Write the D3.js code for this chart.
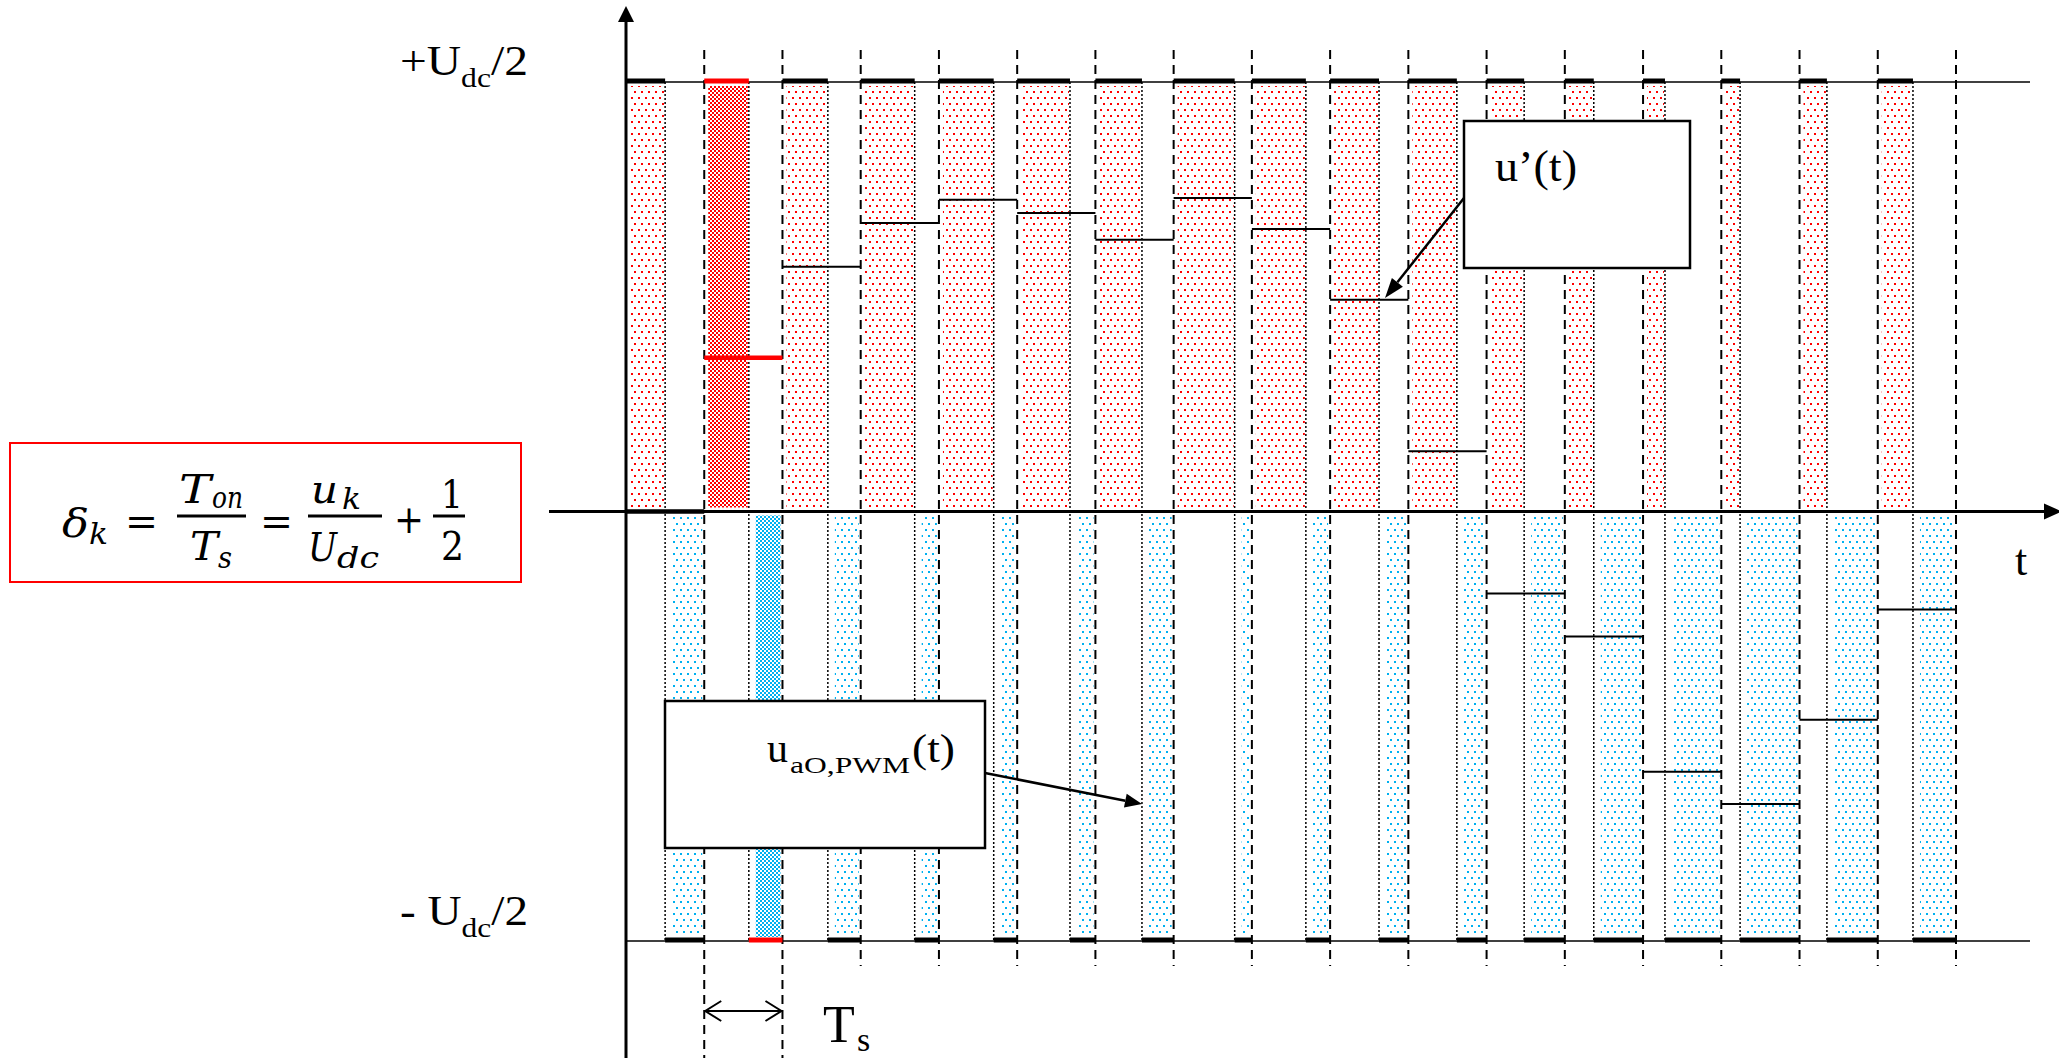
<!DOCTYPE html>
<html>
<head>
<meta charset="utf-8">
<script src="https://cdn.jsdelivr.net/npm/d3@7"></script>
<style>
  body { margin: 0; background: #fff; }
  text { font-family: "Liberation Serif", "Times New Roman", serif; fill: #000; }
  .math text { font-family: "DejaVu Serif", serif; font-style: italic; }
</style>
</head>
<body>
<div id="chart"></div>
<script>
// switching periods (index k = 0..16), one dashed line at the end of each
const periodIndex = [0, 1, 2, 3, 4, 5, 6, 7, 8, 9, 10, 11, 12, 13, 14, 15, 16];
// duty cycle delta_k = Ton / Ts
const duty = [0.50, 0.57, 0.58, 0.69, 0.70, 0.675, 0.595, 0.78, 0.69, 0.625, 0.62, 0.48, 0.37, 0.28, 0.24, 0.35, 0.45];
// averaged value u'(t) over each period, in units of Udc/2
const avgLevel = [0, 0.358, 0.570, 0.672, 0.726, 0.695, 0.633, 0.730, 0.658, 0.493, 0.140, -0.191, -0.291, -0.606, -0.681, -0.485, -0.228];
const highlight = 1;
const levelLabels = [
  { v: 1, main: "+U", sub: "dc", tail: "/2" },
  { v: -1, main: "- U", sub: "dc", tail: "/2" }
];

const width = 2059;
const height = 1058;
const red = "#ff0000";
const blue = "#00b0f0";

let x = d3.scaleLinear().domain([0, 17]).range([626, 1956]);
let y = d3.scaleLinear().domain([-1, 1]).range([941, 82]);

let svg = d3.select("#chart").append("svg")
  .attr("width", width).attr("height", height);

let defs = svg.append("defs");
function dots(id, color, w, h, pts, s) {
  let p = defs.append("pattern").attr("id", id)
    .attr("patternUnits", "userSpaceOnUse").attr("width", w).attr("height", h);
  p.append("rect").attr("width", w).attr("height", h).attr("fill", "#fff");
  pts.forEach((d) => p.append("rect").attr("x", d[0]).attr("y", d[1])
    .attr("width", s).attr("height", s).attr("fill", color));
}
dots("redDots", red, 7, 12, [[1, 1], [4, 7]], 2);
dots("blueDots", blue, 7, 12, [[1, 1], [4, 7]], 2);
dots("redDense", red, 4, 4, [[0, 0], [2, 2]], 2);
dots("blueDense", blue, 4, 4, [[0, 0], [2, 2]], 2);

const sw = (i) => i + duty[i];

// pulses: positive part (red) then negative part (blue)
svg.selectAll(".pos").data(periodIndex).join("rect")
  .attr("x", (i) => x(i) + 4)
  .attr("width", (i) => x(sw(i)) - x(i) - 5)
  .attr("y", y(1) + 4)
  .attr("height", y(0) - y(1) - 8)
  .attr("fill", (i) => i === highlight ? "url(#redDense)" : "url(#redDots)");

svg.selectAll(".neg").data(periodIndex).join("rect")
  .attr("x", (i) => x(sw(i)) + 7)
  .attr("width", (i) => x(i + 1) - x(sw(i)) - 9)
  .attr("y", y(0) + 4)
  .attr("height", y(-1) - y(0) - 8)
  .attr("fill", (i) => i === highlight ? "url(#blueDense)" : "url(#blueDots)");

// switching instants
svg.selectAll(".sw").data(periodIndex).join("line")
  .attr("x1", (i) => x(sw(i))).attr("x2", (i) => x(sw(i)))
  .attr("y1", y(1)).attr("y2", y(-1))
  .attr("stroke", "#000").attr("stroke-width", 1.5)
  .attr("stroke-dasharray", "2,2");

// period boundaries
svg.selectAll(".bnd").data(periodIndex).join("line")
  .attr("x1", (i) => x(i + 1)).attr("x2", (i) => x(i + 1))
  .attr("y1", 50).attr("y2", (i) => i < 2 ? height : 966)
  .attr("stroke", "#000").attr("stroke-width", 2)
  .attr("stroke-dasharray", "9,6");

// +Udc/2 and -Udc/2 levels
svg.selectAll(".lvl").data(levelLabels).join("line")
  .attr("x1", x(0)).attr("x2", 2030)
  .attr("y1", (d) => y(d.v)).attr("y2", (d) => y(d.v))
  .attr("stroke", "#000").attr("stroke-width", 1.5);

// axes
svg.append("line").attr("x1", 549).attr("x2", 2046)
  .attr("y1", y(0)).attr("y2", y(0))
  .attr("stroke", "#000").attr("stroke-width", 3);
svg.append("path").attr("d", `M2062,${y(0)} L2044,${y(0) - 8} L2044,${y(0) + 8} Z`);
svg.append("line").attr("x1", x(0)).attr("x2", x(0))
  .attr("y1", height).attr("y2", 20)
  .attr("stroke", "#000").attr("stroke-width", 3);
svg.append("path").attr("d", `M${x(0)},6 L${x(0) - 8},22 L${x(0) + 8},22 Z`);

// output voltage on the rails
svg.selectAll(".hiRail").data(periodIndex).join("line")
  .attr("x1", (i) => x(i)).attr("x2", (i) => x(sw(i)))
  .attr("y1", y(1) - 1).attr("y2", y(1) - 1)
  .attr("stroke", (i) => i === highlight ? red : "#000").attr("stroke-width", 5);
svg.selectAll(".loRail").data(periodIndex).join("line")
  .attr("x1", (i) => x(sw(i))).attr("x2", (i) => x(i + 1))
  .attr("y1", y(-1) - 1).attr("y2", y(-1) - 1)
  .attr("stroke", (i) => i === highlight ? red : "#000").attr("stroke-width", 5);

// averaged value u'(t)
svg.selectAll(".avg").data(periodIndex).join("line")
  .attr("x1", (i) => x(i)).attr("x2", (i) => x(i + 1))
  .attr("y1", (i) => y(avgLevel[i])).attr("y2", (i) => y(avgLevel[i]))
  .attr("stroke", (i) => i === highlight ? red : "#000")
  .attr("stroke-width", (i) => i === highlight || avgLevel[i] === 0 ? 4.5 : 2);

// callout boxes and arrows
function arrow(x1, y1, x2, y2, len, half) {
  let a = Math.atan2(y2 - y1, x2 - x1);
  let bx = x2 - len * Math.cos(a), by = y2 - len * Math.sin(a);
  svg.append("line").attr("x1", x1).attr("y1", y1).attr("x2", bx).attr("y2", by)
    .attr("stroke", "#000").attr("stroke-width", 2.5);
  svg.append("path").attr("d",
    `M${x2},${y2} L${bx + half * Math.sin(a)},${by - half * Math.cos(a)} L${bx - half * Math.sin(a)},${by + half * Math.cos(a)} Z`);
}
arrow(1464, 198, 1385, 298, 20, 7);
arrow(985, 773, 1142, 804, 17, 7);

svg.append("rect").attr("x", 1464).attr("y", 121).attr("width", 226).attr("height", 147)
  .attr("fill", "#fff").attr("stroke", "#000").attr("stroke-width", 2.5);
svg.append("rect").attr("x", 665).attr("y", 701).attr("width", 320).attr("height", 147)
  .attr("fill", "#fff").attr("stroke", "#000").attr("stroke-width", 2.5);

svg.append("text").attr("x", 1495).attr("y", 181).style("font-size", "44px")
  .attr("textLength", 82).attr("lengthAdjust", "spacingAndGlyphs").text("u\u2019(t)");

svg.append("text").attr("x", 767).attr("y", 762).style("font-size", "42px").text("u");
svg.append("text").attr("x", 790).attr("y", 773).style("font-size", "24px")
  .attr("textLength", 120).attr("lengthAdjust", "spacingAndGlyphs").text("aO,PWM");
svg.append("text").attr("x", 912).attr("y", 762).style("font-size", "40px")
  .attr("textLength", 43).attr("lengthAdjust", "spacingAndGlyphs").text("(t)");

// level labels
let lab = svg.selectAll(".lab").data(levelLabels).join("text")
  .attr("x", 400)
  .attr("y", (d) => d.v > 0 ? y(d.v) - 7 : y(d.v) - 16)
  .attr("textLength", 128).attr("lengthAdjust", "spacingAndGlyphs")
  .style("font-size", "42px");
lab.append("tspan").text((d) => d.main);
lab.append("tspan").attr("dy", 12).style("font-size", "28px").text((d) => d.sub);
lab.append("tspan").attr("dy", -12).text((d) => d.tail);

svg.append("text").attr("x", 2015).attr("y", 575).style("font-size", "44px").text("t");

// Ts marker
svg.append("line").attr("x1", x(1)).attr("x2", x(2)).attr("y1", 1011).attr("y2", 1011)
  .attr("stroke", "#000").attr("stroke-width", 2);
svg.append("path")
  .attr("d", `M${x(1) + 17},1001 L${x(1) + 1},1011 L${x(1) + 17},1021 M${x(2) - 17},1001 L${x(2) - 1},1011 L${x(2) - 17},1021`)
  .attr("fill", "none").attr("stroke", "#000").attr("stroke-width", 2);
svg.append("text").attr("x", 823).attr("y", 1042).style("font-size", "52px").text("T");
svg.append("text").attr("x", 857).attr("y", 1051).style("font-size", "34px").text("s");

// duty-cycle formula
svg.append("rect").attr("x", 10).attr("y", 443).attr("width", 511).attr("height", 139)
  .attr("fill", "#fff").attr("stroke", red).attr("stroke-width", 2);
let f = svg.append("g").attr("class", "math");
function ft(tx, ty, size, s, len, upright) {
  let t = f.append("text").attr("x", tx).attr("y", ty).style("font-size", size + "px").text(s);
  if (len) t.attr("textLength", len).attr("lengthAdjust", "spacingAndGlyphs");
  if (upright) t.style("font-style", "normal");
  return t;
}
ft(62, 537, 39, "\u03b4", 27);
ft(89, 544, 29, "k", 19);
ft(125, 535, 39, "=", 33, true);
ft(179, 503, 39, "T", 32);
ft(212, 508, 29, "on", 31);
ft(190, 560, 39, "T", 28);
ft(218, 568, 29, "s", 14);
ft(260, 535, 39, "=", 33, true);
ft(311, 503, 39, "u", 27);
ft(342, 509, 29, "k", 19);
ft(308, 561, 39, "U", 29);
ft(337, 568, 29, "dc", 42);
ft(394, 533, 39, "+", 30, true);
ft(441, 508, 39, "1", 22, true);
ft(441, 560, 39, "2", 23, true);
[[177, 246], [308, 382], [433, 465]].forEach((b) => {
  f.append("line").attr("x1", b[0]).attr("x2", b[1]).attr("y1", 516).attr("y2", 516)
    .attr("stroke", "#000").attr("stroke-width", 3);
});
</script>
</body>
</html>
